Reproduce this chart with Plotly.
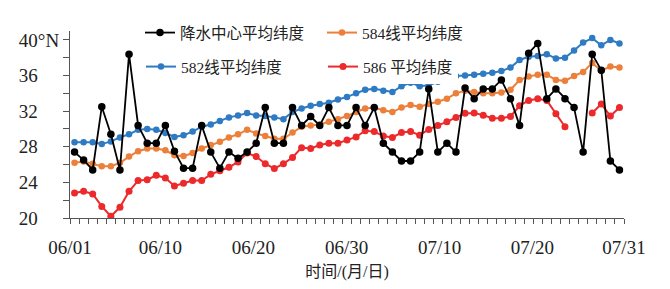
import plotly.graph_objects as go

# Day index from 06/01 (0) to 07/31 (60)
day_index = list(range(61))
x_tick_pos = [-0.5, 9.45, 19.7, 29.95, 40.2, 50.4, 60.5]
x_tick_text = ["06/01", "06/10", "06/20", "06/30", "07/10", "07/20", "07/31"]
minor_tick_pos = [i - 0.5 for i in range(62)]

y_tick_vals = [20, 22, 24, 26, 28, 30, 32, 34, 36, 38, 40]
pad = "<span style='color:white'>°N</span>"
y_tick_text = ["20" + pad, "", "24" + pad, "", "28" + pad, "", "32" + pad, "",
               "36" + pad, "", "40°N"]

names = ["降水中心平均纬度", "584线平均纬度", "582线平均纬度", "586 平均纬度"]

rain_lat = [27.4, 26.5, 25.4, 32.5, 29.4, 25.4, 38.4, 30.4, 28.4, 28.4,
            30.4, 27.5, 25.6, 25.6, 30.4, 27.4, 25.6, 27.4, 26.7, 27.4,
            28.4, 32.4, 28.4, 28.4, 32.4, 30.4, 31.4, 30.4, 32.4, 30.4,
            30.4, 32.4, 30.4, 32.4, 28.4, 27.4, 26.4, 26.4, 27.4, 34.5,
            27.4, 28.4, 27.4, 34.6, 33.4, 34.5, 34.5, 35.5, 33.4, 30.4,
            38.5, 39.6, 33.4, 34.5, 33.4, 32.4, 27.4, 38.4, 36.6, 26.4,
            25.4]

lat_584 = [26.2, 26.35, 26.1, 25.8, 25.8, 26.2, 26.9, 27.5, 27.8, 27.8,
           27.6, 27.05, 26.95, 27.3, 27.8, 28.2, 28.55, 29.05, 29.4, 29.9,
           29.5, 29.2, 28.9, 28.9, 29.6, 30.25, 30.4, 30.5, 30.8, 31.1,
           31.45, 31.9, 32.3, 32.4, 32.1, 31.9, 32.4, 32.7, 32.5, 32.8,
           33.05, 33.4, 34.0, 34.3, 34.15, 34.0, 34.0, 34.1, 34.4, 35.5,
           35.9, 36.1, 36.1, 35.5, 35.4, 35.95, 36.4, 37.4, 36.55, 37.0,
           36.9]

lat_582 = [28.5, 28.5, 28.5, 28.3, 28.6, 29.05, 29.4, 29.9, 30.0, 29.9,
           29.55, 29.1, 29.3, 29.7, 30.25, 30.5, 30.9, 31.3, 31.5, 31.8,
           31.5, 31.45, 31.3, 31.1, 31.9, 32.3, 32.6, 32.8, 32.95, 33.3,
           33.6, 34.0, 34.4, 34.5, 34.3, 34.15, 34.8, 35.2, 34.8, 34.9,
           35.3, 35.6, 35.95, 36.0, 36.1, 36.2, 36.3, 36.5, 36.9, 37.75,
           38.1, 38.2, 38.4, 37.9, 38.0, 38.8, 39.7, 40.2, 39.4, 40.0,
           39.6]

lat_586 = [22.8, 23.0, 22.7, 21.3, 20.2, 21.2, 23.0, 24.2, 24.3, 24.8,
           24.5, 23.6, 23.9, 24.2, 24.2, 24.9, 25.3, 25.7, 26.3, 27.3,
           26.9, 26.1, 25.55, 26.1, 26.8, 27.9, 27.8, 28.2, 28.4, 28.4,
           28.75, 29.1, 29.8, 29.7, 29.2, 29.05, 29.6, 29.7, 29.3, 29.95,
           30.4, 30.8, 31.3, 31.75, 31.8, 31.55, 31.2, 31.2, 31.4, 32.6,
           33.2, 33.4, 33.2, 31.7, 30.25, None, None, 31.8, 32.8, 31.45,
           32.4]

colors = ["#000000", "#EC7F3A", "#2E7BC3", "#EC2A2C"]

FONT = "Liberation Serif, Times New Roman, Noto Sans CJK SC, serif"

fig = go.Figure()

series = [
    (lat_582, names[2], colors[2], "legend3", 2.0, 6.5),
    (lat_584, names[1], colors[1], "legend2", 2.0, 6.5),
    (lat_586, names[3], colors[3], "legend4", 2.0, 7),
    (rain_lat, names[0], colors[0], "legend", 1.8, 7.5),
]
for ys, nm, col, lg, lw, ms in series:
    fig.add_trace(go.Scatter(
        x=day_index, y=ys, name=nm, mode="lines+markers",
        line=dict(color=col, width=lw),
        marker=dict(color=col, size=ms),
        connectgaps=False, legend=lg, showlegend=True,
    ))

# The page body adds an 8px offset; figure is sized/placed to compensate.
OFF = 8
W, H = 670 - 2 * OFF, 289 - 2 * OFF
PL, PR, PT, PB = 70 - OFF, 624 - OFF, 31 - OFF, 218 - OFF


def leg(xpx, ypx):
    xpx -= OFF
    ypx -= OFF
    return dict(
        xref="paper", yref="paper",
        x=(xpx - PL) / (PR - PL), y=(PB - ypx) / (PB - PT),
        xanchor="left", yanchor="middle",
        bgcolor="white", borderwidth=0,
        font=dict(family=FONT, size=15.5, color="#222"),
        itemwidth=30,
    )


fig.update_layout(
    width=W, height=H,
    showlegend=True,
    margin=dict(l=PL, r=W - PR, t=PT, b=H - PB, autoexpand=False),
    paper_bgcolor="white", plot_bgcolor="white",
    font=dict(family=FONT, color="#222"),
    legend=leg(140, 33),
    legend2=leg(322, 33),
    legend3=leg(141, 67),
    legend4=leg(323, 67),
    xaxis=dict(
        range=[-0.5, 60.5],
        showline=True, linecolor="#555", linewidth=1,
        showgrid=False, zeroline=False,
        tickmode="array", tickvals=x_tick_pos, ticktext=x_tick_text,
        ticks="outside", ticklen=5, tickcolor="rgba(0,0,0,0)",
        ticklabelstandoff=7,
        minor=dict(tickmode="array", tickvals=minor_tick_pos,
                   ticks="outside", ticklen=5, tickcolor="#555", tickwidth=1,
                   showgrid=False),
        tickfont=dict(family=FONT, size=19, color="#222"),
        tickangle=0,
        title=dict(text="时间/(月/日)", font=dict(family=FONT, size=16, color="#222"),
                   standoff=10),
    ),
    yaxis=dict(
        range=[20, 41],
        showline=True, linecolor="#555", linewidth=1,
        showgrid=False, zeroline=False,
        tickmode="array", tickvals=y_tick_vals, ticktext=y_tick_text,
        ticks="outside", ticklen=6, tickcolor="#555",
        tickfont=dict(family=FONT, size=19, color="#222"),
    ),
)

fig.write_html("out.html")
